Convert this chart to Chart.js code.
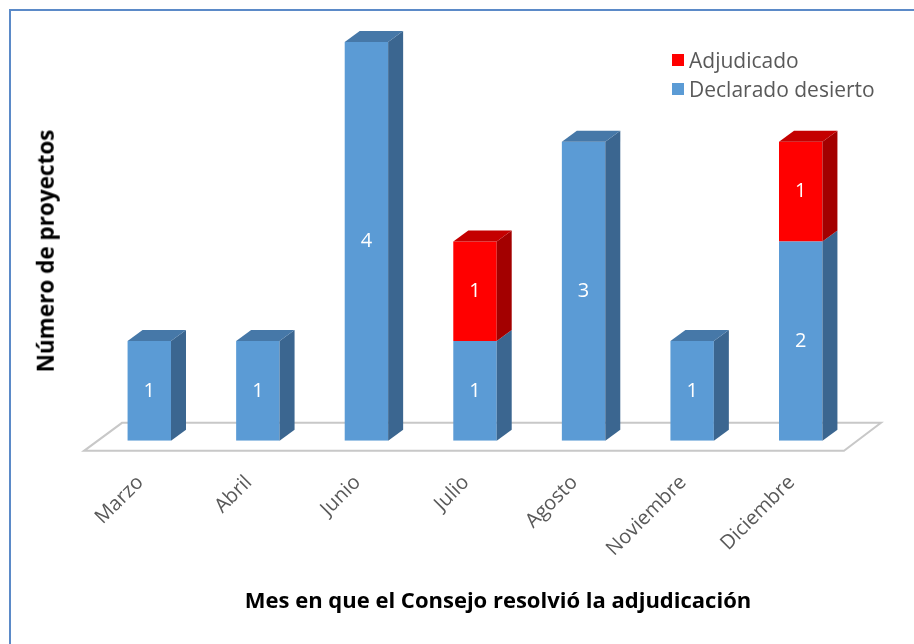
<!DOCTYPE html>
<html>
<head>
<meta charset="utf-8">
<script src="https://cdn.jsdelivr.net/npm/chart.js@4.4.0/dist/chart.umd.min.js"></script>
<style>
    html, body { margin: 0; padding: 0; background: #fff; }
    .wrap { position: relative; width: 914px; height: 644px; overflow: hidden; font-family: 'Open Sans', sans-serif; }
    #chart { position: absolute; left: 0; top: 0; }
    .legend { position: absolute; left: 672px; top: 45px; font-size: 21px; color: #595959; }
    .legend .item { display: flex; align-items: center; height: 29px; white-space: nowrap; }
    .legend .box { width: 12px; height: 12px; margin-right: 5px; }
    .axis-title { position: absolute; font-weight: bold; color: #000; white-space: nowrap; line-height: 1; }
    #xTitle { left: 498px; top: 599px; font-size: 22px; transform: translate(-50%, -50%); }
    #yTitle { left: 46px; top: 251px; font-size: 22.5px; transform: translate(-50%, -50%) rotate(-90deg); }
</style>
</head>
<body>
<div class="wrap">
    <canvas id="chart" width="914" height="644"></canvas>
    <div class="legend" id="legend"></div>
    <div class="axis-title" id="xTitle">Mes en que el Consejo resolvió la adjudicación</div>
    <div class="axis-title" id="yTitle">Número de proyectos</div>
</div>
<script>
// data
const months = ['Marzo', 'Abril', 'Junio', 'Julio', 'Agosto', 'Noviembre', 'Diciembre'];
const desierto = [1, 1, 4, 1, 3, 1, 2];
const adjudicado = [0, 0, 0, 1, 0, 0, 1];
const yMax = 4;

// 3d look
const depth = { dx: 15, dy: 11 };

Chart.defaults.font.family = "'Open Sans', sans-serif";

function poly(ctx, pts, color) {
    ctx.beginPath();
    ctx.moveTo(pts[0][0], pts[0][1]);
    for (let i = 1; i < pts.length; i++) ctx.lineTo(pts[i][0], pts[i][1]);
    ctx.closePath();
    ctx.fillStyle = color;
    ctx.fill();
}

const frame = {
    id: 'frame',
    afterDraw(chart) {
        const ctx = chart.ctx;
        ctx.save();
        ctx.strokeStyle = '#5b8ac8';
        ctx.lineWidth = 2;
        ctx.beginPath();
        ctx.moveTo(10, 644);
        ctx.lineTo(10, 10);
        ctx.lineTo(914, 10);
        ctx.stroke();
        ctx.restore();
    }
};

const bar3d = {
    id: 'bar3d',
    beforeDatasetsDraw(chart) {
        // floor
        const ctx = chart.ctx;
        const { left, right } = chart.chartArea;
        const base = chart.scales.y.getPixelForValue(0);
        ctx.save();
        ctx.beginPath();
        ctx.moveTo(left - 11, base + 10);
        ctx.lineTo(right - 11, base + 10);
        ctx.lineTo(right + 26, base - 18);
        ctx.lineTo(left + 27, base - 18);
        ctx.closePath();
        ctx.fillStyle = '#fff';
        ctx.fill();
        ctx.strokeStyle = '#c8c8c8';
        ctx.lineWidth = 2;
        ctx.stroke();
        ctx.restore();
    },
    afterDatasetsDraw(chart) {
        const ctx = chart.ctx;
        const { dx, dy } = depth;
        ctx.save();
        chart.data.labels.forEach((label, i) => {
            let top = -1;
            chart.data.datasets.forEach((ds, d) => {
                if (ds.data[i] > 0) top = d;
            });
            chart.data.datasets.forEach((ds, d) => {
                if (!(ds.data[i] > 0)) return;
                const bar = chart.getDatasetMeta(d).data[i];
                const { x, y, base, width } = bar.getProps(['x', 'y', 'base', 'width'], true);
                const x0 = x - width / 2;
                const x1 = x + width / 2;
                poly(ctx, [[x1, base], [x1, y], [x1 + dx, y - dy], [x1 + dx, base - dy]], ds.sideColor);
                if (d === top) {
                    poly(ctx, [[x0, y], [x1, y], [x1 + dx, y - dy], [x0 + dx, y - dy]], ds.topColor);
                }
                ctx.fillStyle = '#fff';
                ctx.font = "20px 'Open Sans', sans-serif";
                ctx.textAlign = 'center';
                ctx.textBaseline = 'middle';
                ctx.fillText(ds.data[i], x, (y + base) / 2);
            });
        });
        ctx.restore();
    }
};

const chart = new Chart(document.getElementById('chart'), {
    type: 'bar',
    data: {
        labels: months,
        datasets: [{
            label: 'Declarado desierto',
            data: desierto,
            backgroundColor: '#5b9bd5',
            sideColor: '#3b6690',
            topColor: '#4678a8',
            borderWidth: 0,
            barPercentage: 0.4,
            categoryPercentage: 1
        }, {
            label: 'Adjudicado',
            data: adjudicado,
            backgroundColor: '#ff0000',
            sideColor: '#a30000',
            topColor: '#c40000',
            borderWidth: 0,
            barPercentage: 0.4,
            categoryPercentage: 1
        }]
    },
    options: {
        responsive: false,
        animation: false,
        layout: { padding: { left: 95, right: 59, top: 42, bottom: 61 } },
        plugins: {
            legend: { display: false },
            tooltip: { enabled: false }
        },
        scales: {
            x: {
                stacked: true,
                grid: { display: false },
                border: { display: false },
                ticks: {
                    color: '#595959',
                    font: { size: 20 },
                    minRotation: 45,
                    maxRotation: 45,
                    padding: 22,
                    labelOffset: -9
                }
            },
            y: {
                stacked: true,
                display: false,
                min: 0,
                max: yMax
            }
        }
    },
    plugins: [bar3d, frame]
});

// legend, top series first
const legend = document.getElementById('legend');
[...chart.data.datasets].reverse().forEach(ds => {
    const item = document.createElement('div');
    item.className = 'item';
    item.innerHTML = `<span class="box" style="background:${ds.backgroundColor}"></span>${ds.label}`;
    legend.appendChild(item);
});
</script>
</body>
</html>
